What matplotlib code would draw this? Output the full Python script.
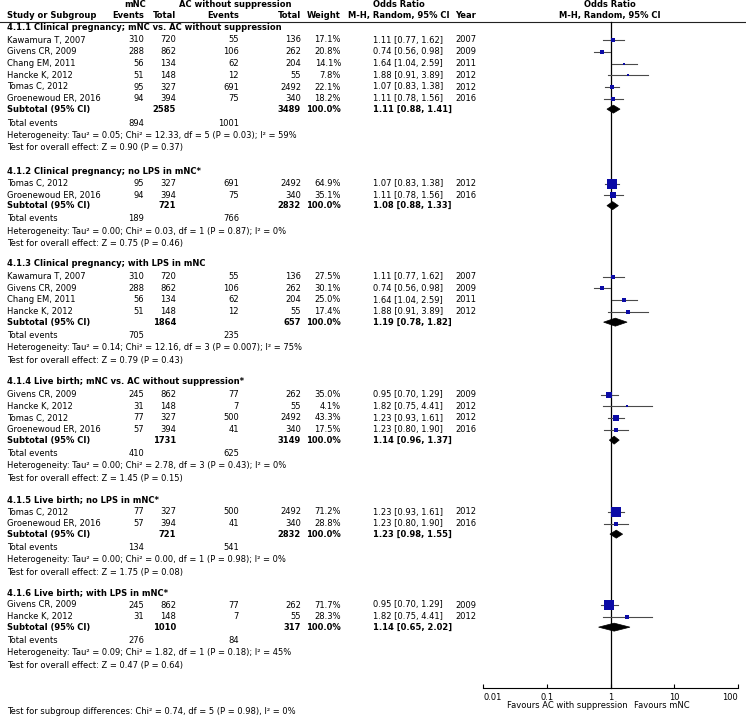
import matplotlib.pyplot as plt
from matplotlib.patches import Polygon
from matplotlib.ticker import NullLocator

plt.rcParams['font.family'] = 'DejaVu Sans'
plt.rcParams['font.size'] = 6.05

# subgroups
group_titles = [
    "4.1.1 Clinical pregnancy; mNC vs. AC without suppression",
    "4.1.2 Clinical pregnancy; no LPS in mNC*",
    "4.1.3 Clinical pregnancy; with LPS in mNC",
    "4.1.4 Live birth; mNC vs. AC without suppression*",
    "4.1.5 Live birth; no LPS in mNC*",
    "4.1.6 Live birth; with LPS in mNC*",
]

# studies (grp = index of subgroup)
study = ["Kawamura T, 2007", "Givens CR, 2009", "Chang EM, 2011", "Hancke K, 2012", "Tomas C, 2012", "Groenewoud ER, 2016",
         "Tomas C, 2012", "Groenewoud ER, 2016",
         "Kawamura T, 2007", "Givens CR, 2009", "Chang EM, 2011", "Hancke K, 2012",
         "Givens CR, 2009", "Hancke K, 2012", "Tomas C, 2012", "Groenewoud ER, 2016",
         "Tomas C, 2012", "Groenewoud ER, 2016",
         "Givens CR, 2009", "Hancke K, 2012"]
grp = [0, 0, 0, 0, 0, 0, 1, 1, 2, 2, 2, 2, 3, 3, 3, 3, 4, 4, 5, 5]
ev1 = [310, 288, 56, 51, 95, 94, 95, 94, 310, 288, 56, 51, 245, 31, 77, 57, 77, 57, 245, 31]
tot1 = [720, 862, 134, 148, 327, 394, 327, 394, 720, 862, 134, 148, 862, 148, 327, 394, 327, 394, 862, 148]
ev2 = [55, 106, 62, 12, 691, 75, 691, 75, 55, 106, 62, 12, 77, 7, 500, 41, 500, 41, 77, 7]
tot2 = [136, 262, 204, 55, 2492, 340, 2492, 340, 136, 262, 204, 55, 262, 55, 2492, 340, 2492, 340, 262, 55]
weight = [17.1, 20.8, 14.1, 7.8, 22.1, 18.2, 64.9, 35.1, 27.5, 30.1, 25.0, 17.4,
          35.0, 4.1, 43.3, 17.5, 71.2, 28.8, 71.7, 28.3]
est = [1.11, 0.74, 1.64, 1.88, 1.07, 1.11, 1.07, 1.11, 1.11, 0.74, 1.64, 1.88,
       0.95, 1.82, 1.23, 1.23, 1.23, 1.23, 0.95, 1.82]
lo = [0.77, 0.56, 1.04, 0.91, 0.83, 0.78, 0.83, 0.78, 0.77, 0.56, 1.04, 0.91,
      0.70, 0.75, 0.93, 0.80, 0.93, 0.80, 0.70, 0.75]
hi = [1.62, 0.98, 2.59, 3.89, 1.38, 1.56, 1.38, 1.56, 1.62, 0.98, 2.59, 3.89,
      1.29, 4.41, 1.61, 1.90, 1.61, 1.90, 1.29, 4.41]
year = [2007, 2009, 2011, 2012, 2012, 2016, 2012, 2016, 2007, 2009, 2011, 2012,
        2009, 2012, 2012, 2016, 2012, 2016, 2009, 2012]

# subtotals
sub_tot1 = [2585, 721, 1864, 1731, 721, 1010]
sub_tot2 = [3489, 2832, 657, 3149, 2832, 317]
sub_est = [1.11, 1.08, 1.19, 1.14, 1.23, 1.14]
sub_lo = [0.88, 0.88, 0.78, 0.96, 0.98, 0.65]
sub_hi = [1.41, 1.33, 1.82, 1.37, 1.55, 2.02]
tot_ev1 = [894, 189, 705, 410, 134, 276]
tot_ev2 = [1001, 766, 235, 625, 541, 84]
het_text = [
    "Heterogeneity: Tau² = 0.05; Chi² = 12.33, df = 5 (P = 0.03); I² = 59%",
    "Heterogeneity: Tau² = 0.00; Chi² = 0.03, df = 1 (P = 0.87); I² = 0%",
    "Heterogeneity: Tau² = 0.14; Chi² = 12.16, df = 3 (P = 0.007); I² = 75%",
    "Heterogeneity: Tau² = 0.00; Chi² = 2.78, df = 3 (P = 0.43); I² = 0%",
    "Heterogeneity: Tau² = 0.00; Chi² = 0.00, df = 1 (P = 0.98); I² = 0%",
    "Heterogeneity: Tau² = 0.09; Chi² = 1.82, df = 1 (P = 0.18); I² = 45%",
]
z_text = ["Z = 0.90 (P = 0.37)", "Z = 0.75 (P = 0.46)", "Z = 0.79 (P = 0.43)",
          "Z = 1.45 (P = 0.15)", "Z = 1.75 (P = 0.08)", "Z = 0.47 (P = 0.64)"]
subgroup_test = "Test for subgroup differences: Chi² = 0.74, df = 5 (P = 0.98), I² = 0%"

ticks = [0.01, 0.1, 1, 10, 100]
tick_labels = ["0.01", "0.1", "1", "10", "100"]

W, H = 746, 718
fig = plt.figure(figsize=(W / 100, H / 100), dpi=100)
ax = fig.add_axes([0, 0, 1, 1])
ax.set_xlim(0, W)
ax.set_ylim(H, 0)
ax.axis('off')

fa = fig.add_axes([483 / W, 0, 255 / W, 1])
fa.set_xscale('log')
fa.set_xlim(0.01, 100)
fa.set_ylim(H, 0)
fa.patch.set_alpha(0)
for s in ['top', 'left', 'right']:
    fa.spines[s].set_visible(False)
fa.spines['bottom'].set_position(('data', 688))
fa.spines['bottom'].set_linewidth(0.8)
fa.set_yticks([])
fa.set_xticks(ticks)
fa.set_xticklabels([])
fa.xaxis.set_minor_locator(NullLocator())
fa.tick_params(axis='x', direction='in', length=3, width=0.8)

# column positions (px)
x_study = 7
x_ev1, x_tot1, x_ev2, x_tot2, x_w = 144, 176, 239, 301, 341
x_or, x_year = 373, 455
blue = '#0b0ba6'

# header
ax.text(135, 4.5, "mNC", ha='center', va='center', weight='bold')
ax.text(235, 4.5, "AC without suppression", ha='center', va='center', weight='bold')
ax.text(399, 4.5, "Odds Ratio", ha='center', va='center', weight='bold')
ax.text(610, 4.5, "Odds Ratio", ha='center', va='center', weight='bold')
ax.text(x_study, 15.5, "Study or Subgroup", ha='left', va='center', weight='bold')
ax.text(x_ev1, 15.5, "Events", ha='right', va='center', weight='bold')
ax.text(x_tot1, 15.5, "Total", ha='right', va='center', weight='bold')
ax.text(x_ev2, 15.5, "Events", ha='right', va='center', weight='bold')
ax.text(x_tot2, 15.5, "Total", ha='right', va='center', weight='bold')
ax.text(x_w, 15.5, "Weight", ha='right', va='center', weight='bold')
ax.text(399, 15.5, "M-H, Random, 95% CI", ha='center', va='center', weight='bold')
ax.text(x_year, 15.5, "Year", ha='left', va='center', weight='bold')
ax.text(610, 15.5, "M-H, Random, 95% CI", ha='center', va='center', weight='bold')
ax.plot([0, W], [21.5, 21.5], color='#222222', lw=0.8)

title_y = [27.5, 171, 264, 382, 499.5, 592.5]

for g in range(len(group_titles)):
    y = title_y[g]
    ax.text(x_study, y, group_titles[g], ha='left', va='center', weight='bold')
    y += 12.5
    rows = [i for i in range(len(study)) if grp[i] == g]
    for k, i in enumerate(rows):
        ax.text(x_study, y, study[i], ha='left', va='center')
        ax.text(x_ev1, y, str(ev1[i]), ha='right', va='center')
        ax.text(x_tot1, y, str(tot1[i]), ha='right', va='center')
        ax.text(x_ev2, y, str(ev2[i]), ha='right', va='center')
        ax.text(x_tot2, y, str(tot2[i]), ha='right', va='center')
        ax.text(x_w, y, "%.1f%%" % weight[i], ha='right', va='center')
        ax.text(x_or, y, "%.2f [%.2f, %.2f]" % (est[i], lo[i], hi[i]), ha='left', va='center')
        ax.text(x_year, y, str(year[i]), ha='left', va='center')
        fa.plot([lo[i], hi[i]], [y, y], color='#4a4a4a', lw=0.8, zorder=2)
        side = 0.8 + 0.132 * weight[i]
        fa.scatter([est[i]], [y], marker='s', s=(side * 0.72) ** 2, color=blue,
                   linewidths=0, zorder=3)
        if k < len(rows) - 1:
            y += 11.75
    y += 10.4
    ax.text(x_study, y, "Subtotal (95% CI)", ha='left', va='center', weight='bold')
    ax.text(x_tot1, y, str(sub_tot1[g]), ha='right', va='center', weight='bold')
    ax.text(x_tot2, y, str(sub_tot2[g]), ha='right', va='center', weight='bold')
    ax.text(x_w, y, "100.0%", ha='right', va='center', weight='bold')
    ax.text(x_or, y, "%.2f [%.2f, %.2f]" % (sub_est[g], sub_lo[g], sub_hi[g]),
            ha='left', va='center', weight='bold')
    fa.add_patch(Polygon([(sub_lo[g], y), (sub_est[g], y - 4), (sub_hi[g], y), (sub_est[g], y + 4)],
                         closed=True, facecolor='black', edgecolor='black', lw=0.5, zorder=3))
    y += 14 if g == 0 else 13.2
    ax.text(x_study, y, "Total events", ha='left', va='center')
    ax.text(x_ev1, y, str(tot_ev1[g]), ha='right', va='center')
    ax.text(x_ev2, y, str(tot_ev2[g]), ha='right', va='center')
    y += 12.5
    ax.text(x_study, y, het_text[g], ha='left', va='center')
    y += 12.3
    ax.text(x_study, y, "Test for overall effect: " + z_text[g], ha='left', va='center')

# null line and axis labels
fa.plot([1, 1], [21.5, 688], color='black', lw=0.9, zorder=1)
for t, lab in zip(ticks, tick_labels):
    ha = 'center'
    if t == ticks[0]:
        ha = 'left'
    if t == ticks[-1]:
        ha = 'right'
    fa.text(t, 697, lab, ha=ha, va='center')
ax.text(628, 706, "Favours AC with suppression", ha='right', va='center')
ax.text(634, 706, "Favours mNC", ha='left', va='center')

ax.text(x_study, 712, subgroup_test, ha='left', va='center')

fig.savefig('out.png', dpi=100)
